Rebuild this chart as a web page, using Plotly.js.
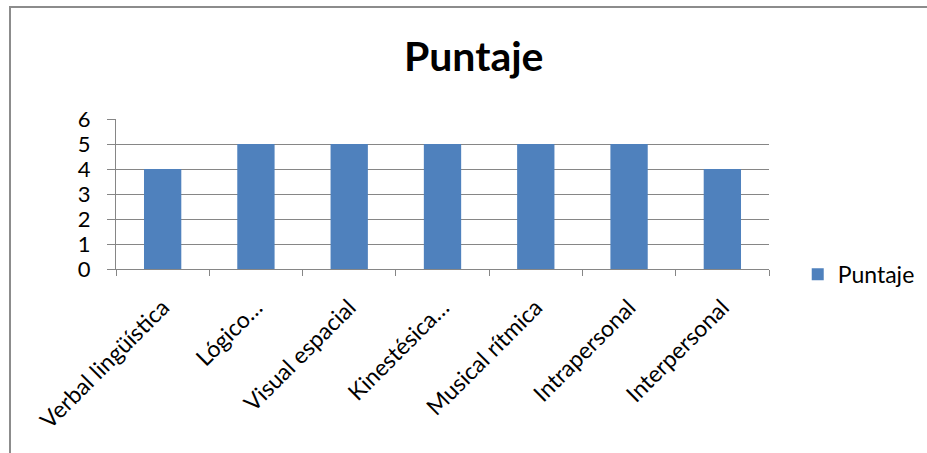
<!DOCTYPE html>
<html>
<head>
<meta charset="utf-8">
<script src="https://cdn.plot.ly/plotly-3.0.1.min.js"></script>
<style>
  html, body { margin: 0; padding: 0; background: #fff; overflow: hidden; }
  #frame { position: absolute; left: 9px; top: 6px; width: 940px; height: 470px;
           border-left: 2px solid #8c8c8c; border-top: 2px solid #8c8c8c; }
  #chart { position: absolute; left: 0; top: 0; width: 927px; height: 453px; }
</style>
</head>
<body>
<div id="frame"></div>
<div id="chart"></div>
<script>
const categories = ["Verbal lingüística", "Lógico…", "Visual espacial", "Kinestésica…", "Musical rítmica", "Intrapersonal", "Interpersonal"];
const puntaje = [4, 5, 5, 5, 5, 5, 4];
const seriesName = "Puntaje";
const yTicks = [0, 1, 2, 3, 4, 5, 6];

const FONT = "Lato, 'Open Sans', sans-serif";
const GRID = "#868686";

const trace = {
  type: "bar",
  x: categories,
  y: puntaje,
  name: seriesName,
  marker: { color: "#4F81BD" },
  showlegend: true,
  hoverinfo: "x+y"
};

const layout = {
  width: 927, height: 453,
  margin: { l: 116, r: 158, t: 119, b: 184, pad: 0, autoexpand: false },
  paper_bgcolor: "rgba(0,0,0,0)",
  plot_bgcolor: "rgba(0,0,0,0)",
  font: { family: FONT, color: "#000" },
  title: {
    text: "<b>Puntaje</b>",
    font: { family: FONT, size: 41, color: "#000" },
    x: 0.511, xanchor: "center",
    y: 0.875, yanchor: "middle"
  },
  bargap: 0.6,
  showlegend: true,
  legend: {
    x: 1.044, xanchor: "left",
    y: -0.035, yanchor: "middle",
    font: { family: FONT, size: 23, color: "#000" },
    itemwidth: 30,
    bgcolor: "rgba(0,0,0,0)"
  },
  xaxis: {
    type: "category",
    tickangle: -45,
    tickfont: { family: FONT, size: 23, color: "#000" },
    ticks: "outside",
    tickson: "boundaries",
    ticklen: 6,
    tickcolor: GRID,
    showline: true,
    linecolor: GRID,
    linewidth: 1,
    showgrid: false,
    ticklabelstandoff: 15,
    automargin: false
  },
  yaxis: {
    range: [0, 6],
    tickvals: yTicks,
    ticktext: yTicks.map(String),
    tickfont: { family: FONT, size: 22, color: "#000" },
    ticks: "outside",
    ticklen: 8,
    tickcolor: GRID,
    showline: true,
    linecolor: GRID,
    linewidth: 1,
    showgrid: true,
    gridcolor: GRID,
    gridwidth: 1,
    zeroline: false,
    ticklabelstandoff: 12,
    automargin: false
  }
};

Plotly.newPlot("chart", [trace], layout, { displayModeBar: false, staticPlot: true });
</script>
</body>
</html>
